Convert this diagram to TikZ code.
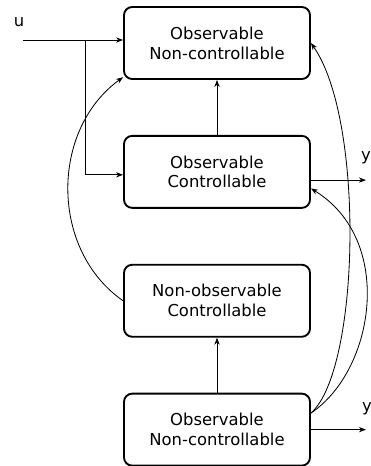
\documentclass[tikz,border=0pt]{standalone}
\usepackage{fontspec}
\setmainfont{DejaVu Sans}
\usetikzlibrary{arrows.meta}
\usetikzlibrary{positioning}

\tikzset{
  block/.style={draw, line width=1.6pt, rounded corners=7pt,
    minimum width=5.58cm, minimum height=2.16cm, align=center,
    font=\fontsize{14}{17}\selectfont},
  conn/.style={line width=0.7pt, -{Stealth[length=6pt,width=4.5pt]}},
  lbl/.style={font=\fontsize{14}{17}\selectfont, inner sep=0pt}
}

\begin{document}
\begin{tikzpicture}[x=0.03cm, y=-0.03cm, node distance=1.65cm]
        \useasboundingbox (0,0) rectangle (371,466);
        \node[block] (onc) at (217,43) {Observable\\Non-controllable};
        \node[block, below=of onc] (oc) {Observable\\Controllable};
        \node[block, below=of oc] (nc) {Non-observable\\Controllable};
        \node[block, below=of nc] (ocb) {Observable\\Non-controllable};

        \coordinate (u) at (23,40);
        \coordinate (br) at (85,40);
        \node[lbl] (ulab) at (19,22) {u};
        \draw[conn] (u) -- (u -| onc.west);
        \draw[conn] (br) |- ([yshift=-2.5pt]oc.west);

        \draw[conn] (oc.north) -- (onc.south);
        \draw[conn] (ocb.north) -- (nc.south);

        \draw[conn] ([yshift=-7pt]oc.east) -- ++(55,0) coordinate (y1);
        \node[lbl] (ylab1) at (366,158) {y};
        \draw[conn] (ocb.east) -- ++(55,0) coordinate (y2);
        \node[lbl] (ylab2) at (367,409) {y};

        \draw[conn] (nc.west) .. controls (50,250) and (50,130) .. (onc.200);
        \draw[conn] (ocb.10) .. controls (360,370) and (365,120) .. (onc.east);
        \draw[conn] (ocb.10) .. controls (375,370) and (395,240) .. (oc.-10);
      \end{tikzpicture}
\end{document}
